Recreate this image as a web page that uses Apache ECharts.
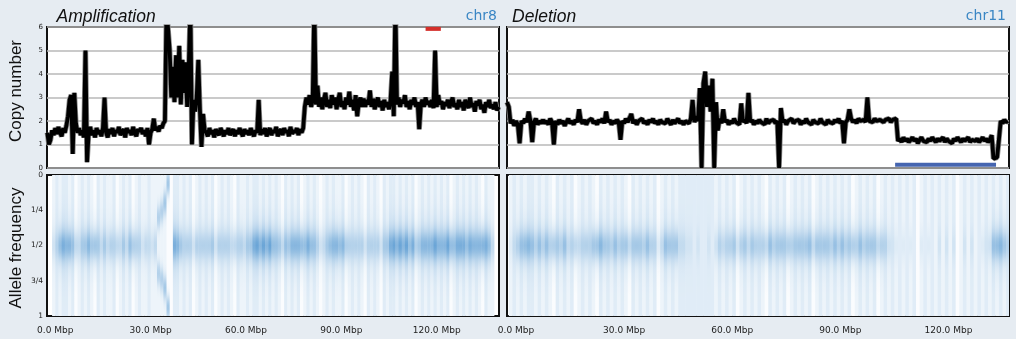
<!DOCTYPE html>
<html><head><meta charset="utf-8">
<script src="https://cdn.jsdelivr.net/npm/echarts@6/dist/echarts.min.js"></script>
<style>html,body{margin:0;padding:0;background:#e6ecf2;}#c{width:1016px;height:339px;}</style>
</head><body><div id="c"></div>
<script>
// ---- copy number (sampled every 0.5 Mbp starting at -2.5 Mbp on the plotted axis) ----
const cnStart = -2.5;
const cnStep = 0.5;
const chr8CopyNumber = [
1.5,1.0,1.2,1.6,1.4,1.7,1.45,1.75,1.5,1.35,1.7,1.5,1.8,2.2,2.9,3.1,0.6,3.2,1.9,1.5,
1.7,1.4,1.6,1.3,5.0,0.25,1.5,1.75,1.4,1.6,1.3,1.7,1.45,1.6,1.35,1.7,3.0,1.5,1.3,1.65,
1.45,1.7,1.35,1.6,1.5,1.75,1.4,1.55,1.65,1.3,1.7,1.5,1.6,1.4,1.75,1.5,1.35,1.65,1.55,1.7,
1.45,1.6,1.35,1.7,1.0,1.5,1.65,2.1,1.6,1.75,1.55,1.8,1.7,1.9,2.0,6.8,6.8,5.0,3.0,4.3,
2.8,4.8,3.0,5.2,2.7,4.6,3.2,4.5,2.6,4.2,7.0,1.0,2.9,2.4,3.0,4.6,2.5,0.9,2.3,1.6,
1.5,1.35,1.7,1.45,1.6,1.3,1.65,1.5,1.4,1.7,1.55,1.35,1.6,1.45,1.7,1.4,1.55,1.65,1.35,1.6,
1.45,1.7,1.5,1.35,1.65,1.45,1.6,1.4,1.7,1.5,1.35,1.6,1.5,2.9,1.4,1.65,1.45,1.7,1.35,1.55,
1.7,1.4,1.6,1.5,1.75,1.35,1.55,1.65,1.4,1.7,1.5,1.6,1.35,1.75,1.45,1.6,1.5,1.7,1.4,1.65,
1.5,1.7,2.6,3.0,2.7,3.1,2.6,2.9,7.0,2.7,3.5,2.6,3.0,2.5,2.9,3.2,2.6,2.9,2.55,3.1,
2.7,3.0,2.5,2.9,3.2,2.6,2.85,2.5,3.0,2.7,3.25,2.6,2.9,2.45,3.1,2.2,2.8,3.0,2.6,2.95,
2.6,2.9,2.7,3.3,2.6,2.95,2.5,2.8,3.0,2.6,2.85,2.45,2.9,2.6,2.8,2.5,2.9,4.1,2.2,7.0,
2.7,3.0,2.6,2.9,2.75,3.1,2.6,2.85,2.5,2.9,2.7,3.0,2.6,2.8,1.65,2.7,2.9,2.6,3.0,2.7,
2.85,2.6,2.9,2.55,5.0,2.6,3.1,2.7,2.85,2.5,2.8,2.65,2.9,2.55,2.8,3.0,2.6,2.75,2.5,2.9,
2.6,2.8,2.45,2.9,2.7,2.55,3.0,2.6,2.75,2.4,2.85,2.65,2.9,2.5,2.7,2.35,2.8,2.6,2.9,2.55,
2.7,2.5,2.8,2.45,2.6
];
const chr11CopyNumber = [
2.8,2.6,1.9,2.05,1.8,2.0,1.85,1.05,2.0,1.9,2.1,1.95,2.4,2.0,1.1,1.95,2.1,1.85,2.0,1.9,
2.05,1.9,2.0,1.85,2.1,1.95,1.0,2.0,1.85,2.05,1.9,2.0,1.8,1.95,2.1,1.9,2.0,1.85,2.05,1.95,
2.5,2.0,1.9,2.05,1.85,2.0,1.95,2.1,1.9,2.0,1.85,2.05,1.95,2.1,1.9,2.4,1.95,2.05,1.85,2.0,
1.9,2.05,1.95,1.2,2.0,1.9,2.1,1.95,2.0,2.3,1.9,2.05,1.85,2.0,1.95,2.1,1.9,2.0,1.85,2.05,
1.95,2.1,1.9,2.0,1.85,2.05,1.95,2.0,1.9,2.1,1.95,1.85,2.05,1.9,2.0,2.1,1.9,2.0,1.85,2.0,
2.0,1.9,2.1,2.9,1.95,2.2,2.0,3.4,0.0,3.6,4.1,2.6,3.5,2.4,3.8,0.0,2.8,1.6,2.1,1.9,
2.5,1.95,2.05,1.85,2.0,1.9,2.1,1.95,2.0,1.85,2.75,1.95,2.05,1.9,3.2,1.95,2.05,1.85,2.0,1.9,
2.05,1.95,2.0,1.85,2.1,1.9,2.0,1.95,2.05,1.9,2.0,0.0,2.55,1.95,2.05,1.85,2.0,1.95,2.1,1.9,
2.0,1.95,2.05,1.85,2.0,1.9,2.1,1.95,2.0,1.85,2.05,1.95,2.0,1.9,2.1,1.95,2.0,1.85,2.05,1.95,
2.0,1.9,2.05,1.95,2.1,1.9,2.0,1.05,1.95,2.05,2.5,2.1,1.95,2.05,1.9,2.1,2.0,1.95,2.05,1.95,
3.0,2.0,2.05,1.95,2.1,2.0,1.95,2.05,2.1,1.95,2.05,2.0,2.1,1.95,2.05,2.0,2.1,1.15,1.25,1.1,
1.3,1.15,1.25,1.1,1.2,1.3,1.15,1.25,1.05,1.2,1.3,1.15,1.2,1.1,1.25,1.15,1.3,1.2,1.1,1.25,
1.15,1.2,1.3,1.1,1.25,1.15,1.2,1.05,1.25,1.15,1.3,1.2,1.1,1.25,1.15,1.2,1.3,1.1,1.2,1.25,
1.15,1.25,1.1,1.2,1.3,1.15,1.25,1.1,1.2,1.4,0.4,0.35,0.45,1.2,2.0,1.9,2.05,1.95,2.0
];
// highlighted segments: [from Mbp, to Mbp, copy-number level]
const ampSegment = [116.5, 121.3, 5.92];
const delSegment = [105.2, 133.2, 0.14];

// ---- allele frequency density (1 Mbp bins) ----
const chr8AfStart = -1;
const chr8AfBand = [
2,3,6,7,6,7,5,4,3,4,
5,6,5,6,4,3,4,3,4,3,
4,3,4,3,5,5,4,3,2,3,
2,2,3,4,4,5,6,0,7,6,
5,3,4,3,3,4,3,4,3,4,
4,3,4,3,4,3,3,4,3,4,
3,4,5,7,8,7,8,7,8,6,
5,5,4,5,5,6,7,6,7,6,
7,6,5,4,3,3,4,6,6,7,
6,6,5,4,3,4,3,4,3,3,
4,3,4,3,4,5,7,8,7,8,
7,8,6,7,5,5,6,7,6,7,
8,7,6,7,8,7,6,7,8,7,
6,7,7,6,7,8,7,6,3
];
const chr8AfHaze = [
1,2,1,2,2,1,2,0,1,2,
1,2,1,0,2,1,2,1,1,2,
0,1,2,1,2,0,1,2,1,1,
2,1,1,1,1,1,0,0,2,2,
1,2,1,2,0,1,2,1,2,1,
2,0,1,2,1,2,1,0,2,1,
1,2,1,2,2,1,2,1,2,1,
2,1,0,2,1,2,1,2,0,1,
2,1,2,1,0,1,2,1,2,1,
1,2,0,1,2,1,2,1,0,2,
1,2,1,0,2,1,2,2,1,2,
1,2,1,2,0,1,2,1,2,1,
2,1,2,1,2,0,1,2,1,2,
1,2,1,2,1,0,2,1,1
];
// bins where the allele peaks split away from 1/2: [bin start Mbp, offset from 1/2]
const chr8AfSplit = [[32,0.2],[33,0.24],[34,0.3],[35,0.44]];
const chr11AfStart = -2;
const chr11AfBand = [
1,2,4,5,6,6,5,4,5,4,
5,4,5,4,4,5,3,3,4,3,
3,4,3,5,6,6,5,4,4,5,
4,4,5,4,4,5,4,4,5,4,
3,2,3,5,5,4,5,2,2,1,
1,0,1,0,0,1,0,2,3,3,
3,4,4,3,4,4,3,4,4,3,
4,4,5,4,4,5,4,5,4,4,
5,4,5,5,4,5,4,5,4,4,
5,4,5,4,4,5,4,5,4,4,
5,4,4,4,3,2,1,1,0,1,
0,1,0,0,1,0,1,0,0,1,
0,1,0,1,0,0,1,0,1,0,
0,1,1,2,5,6,6,5,3
];
const chr11AfHaze = [
1,2,1,2,1,2,2,1,2,1,
2,1,0,2,1,2,1,2,0,1,
2,1,2,1,0,2,1,2,1,2,
1,2,1,0,2,1,2,1,2,1,
2,0,1,2,1,2,1,2,2,2,
2,2,2,2,2,2,2,1,2,1,
2,1,2,0,1,2,1,2,1,2,
1,0,2,1,2,1,2,0,1,2,
1,2,1,2,0,1,2,1,2,1,
2,1,2,1,2,0,1,2,1,2,
1,2,0,1,2,1,2,1,2,1,
2,1,2,0,1,2,1,2,1,2,
1,2,1,2,0,1,2,1,2,1,
2,1,2,1,2,1,2,1,2
];

// ---- axis ticks ----
const mbpTicks = [0, 30, 60, 90, 120];
const cnTicks = [0, 1, 2, 3, 4, 5, 6];
const afTickValues = [0, 0.25, 0.5, 0.75, 1];
const afTickLabels = ['0', '1/4', '1/2', '3/4', '1'];

// ---------------------------------------------------------------
const toPoints = arr => arr.map((v, i) => [cnStart + i * cnStep, v]);
const chr8Pts = toPoints(chr8CopyNumber);
const chr11Pts = toPoints(chr11CopyNumber);

function afData(start, band, haze, split) {
  const sm = {};
  split.forEach(s => { sm[s[0]] = s[1]; });
  return band.map((b, i) => {
    const pos = start + i;
    return [pos, 0.5, b, haze[i], sm[pos] || 0];
  });
}
const chr8Af = afData(chr8AfStart, chr8AfBand, chr8AfHaze, chr8AfSplit);
const chr11Af = afData(chr11AfStart, chr11AfBand, chr11AfHaze, []);

function g(t, m, s) { const d = (t - m) / s; return Math.exp(-0.5 * d * d); }
function mix(v) {
  v = Math.max(0, Math.min(1, v));
  const r = Math.round(255 + (35 - 255) * v);
  const gg = Math.round(255 + (122 - 255) * v);
  const b = Math.round(255 + (195 - 255) * v);
  return 'rgb(' + r + ',' + gg + ',' + b + ')';
}
function renderAf(params, api) {
  const x0 = api.value(0), band = api.value(2), haze = api.value(3), off = api.value(4);
  const p0 = api.coord([x0, 0]);
  const p1 = api.coord([x0 + 1, 1]);
  const stops = [];
  const amp = band / 9 * 0.6;
  for (let k = 0; k <= 40; k++) {
    const t = k / 40;
    let v = 0.02 + 0.06 * haze;
    if (off > 0) v += amp * (g(t, 0.5 - off, 0.06) + g(t, 0.5 + off, 0.06));
    else v += amp * (0.72 * g(t, 0.5, 0.07) + 0.28 * g(t, 0.5, 0.15));
    stops.push({ offset: t, color: mix(v) });
  }
  const cs = params.coordSys;
  const x = Math.max(p0[0], cs.x), xe = Math.min(p1[0] + 0.5, cs.x + cs.width);
  return {
    type: 'rect',
    shape: { x: x, y: p0[1], width: xe - x, height: p1[1] - p0[1] },
    style: { fill: new echarts.graphic.LinearGradient(0, 0, 0, 1, stops) }
  };
}

const chart = echarts.init(document.getElementById('c'), null, { renderer: 'canvas' });
const gridBase = { show: true, borderColor: '#111', borderWidth: 2, backgroundColor: '#fff' };
const splitGray = { show: true, lineStyle: { color: '#b8b8b8', width: 1.5 } };
const mbpLabel = {
  customValues: mbpTicks, formatter: v => v.toFixed(1) + ' Mbp',
  fontSize: 9, color: '#222', margin: 10, fontFamily: 'DejaVu Sans'
};
const hiddenX = (gi, min, max) => ({ type: 'value', gridIndex: gi, min: min, max: max, show: false });
const labelX = (gi, min, max) => ({
  type: 'value', gridIndex: gi, min: min, max: max,
  axisLine: { show: false }, axisTick: { show: false }, splitLine: { show: false },
  axisLabel: mbpLabel
});

chart.setOption({
  animation: false,
  backgroundColor: '#e6ecf2',
  grid: [
    Object.assign({ left: 47, top: 27, width: 452, height: 141 }, gridBase),
    Object.assign({ left: 507, top: 27, width: 502, height: 141 }, gridBase),
    Object.assign({ left: 47, top: 175, width: 452, height: 141 }, gridBase),
    Object.assign({ left: 507, top: 175, width: 502, height: 141 }, gridBase)
  ],
  xAxis: [
    hiddenX(0, -2.6, 139.6),
    hiddenX(1, -2.5, 136.8),
    labelX(2, -2.6, 139.6),
    labelX(3, -2.5, 136.8)
  ],
  yAxis: [
    { type: 'value', gridIndex: 0, min: 0, max: 6, interval: 1,
      axisLine: { show: false }, axisTick: { show: false }, splitLine: splitGray,
      axisLabel: { customValues: cnTicks, fontSize: 7, color: '#222', margin: 4, fontFamily: 'DejaVu Sans' } },
    { type: 'value', gridIndex: 1, min: 0, max: 6, interval: 1,
      axisLine: { show: false }, axisTick: { show: false }, splitLine: splitGray,
      axisLabel: { show: false } },
    { type: 'value', gridIndex: 2, min: 0, max: 1, inverse: true,
      axisLine: { show: false }, axisTick: { show: false }, splitLine: { show: false },
      axisLabel: { customValues: afTickValues, formatter: v => afTickLabels[afTickValues.indexOf(v)],
        fontSize: 7.5, color: '#222', margin: 4, fontFamily: 'DejaVu Sans' } },
    { type: 'value', gridIndex: 3, min: 0, max: 1, inverse: true,
      axisLine: { show: false }, axisTick: { show: false }, splitLine: { show: false },
      axisLabel: { show: false } }
  ],
  series: [
    { type: 'custom', xAxisIndex: 2, yAxisIndex: 2, renderItem: renderAf, data: chr8Af, encode: { x: 0, y: 1 }, z: 1 },
    { type: 'custom', xAxisIndex: 3, yAxisIndex: 3, renderItem: renderAf, data: chr11Af, encode: { x: 0, y: 1 }, z: 1 },
    { type: 'line', xAxisIndex: 0, yAxisIndex: 0, data: chr8Pts, showSymbol: false, z: 2,
      lineStyle: { color: '#8a8a8a', width: 5.4 } },
    { type: 'line', xAxisIndex: 0, yAxisIndex: 0, data: chr8Pts, showSymbol: false, z: 3,
      lineStyle: { color: '#000', width: 3.8 } },
    { type: 'line', xAxisIndex: 1, yAxisIndex: 1, data: chr11Pts, showSymbol: false, z: 2,
      lineStyle: { color: '#8a8a8a', width: 5.4 } },
    { type: 'line', xAxisIndex: 1, yAxisIndex: 1, data: chr11Pts, showSymbol: false, z: 3,
      lineStyle: { color: '#000', width: 3.8 } },
    { type: 'line', xAxisIndex: 0, yAxisIndex: 0, showSymbol: false, z: 4,
      data: [[ampSegment[0], ampSegment[2]], [ampSegment[1], ampSegment[2]]],
      lineStyle: { color: '#d42f2b', width: 4 } },
    { type: 'line', xAxisIndex: 1, yAxisIndex: 1, showSymbol: false, z: 4,
      data: [[delSegment[0], delSegment[2]], [delSegment[1], delSegment[2]]],
      lineStyle: { color: '#4565b0', width: 4 } }
  ],
  graphic: [
    { type: 'text', x: 56.5, y: 17, style: { text: 'Amplification', font: 'italic 17.5px "Liberation Sans", Arial, sans-serif', fill: '#111', verticalAlign: 'middle' } },
    { type: 'text', x: 512, y: 17, style: { text: 'Deletion', font: 'italic 17.5px "Liberation Sans", Arial, sans-serif', fill: '#111', verticalAlign: 'middle' } },
    { type: 'text', x: 497, y: 16, style: { text: 'chr8', font: '14px "DejaVu Sans", sans-serif', fill: '#3a86c4', align: 'right', verticalAlign: 'middle' } },
    { type: 'text', x: 1006, y: 16, style: { text: 'chr11', font: '14px "DejaVu Sans", sans-serif', fill: '#3a86c4', align: 'right', verticalAlign: 'middle' } },
    { type: 'text', x: 16.5, y: 91, rotation: Math.PI / 2, style: { text: 'Copy number', font: '17px "Liberation Sans", Arial, sans-serif', fill: '#111', align: 'center', verticalAlign: 'middle' } },
    { type: 'text', x: 16, y: 248, rotation: Math.PI / 2, style: { text: 'Allele frequency', font: '17px "Liberation Sans", Arial, sans-serif', fill: '#111', align: 'center', verticalAlign: 'middle' } }
  ]
});
</script></body></html>
